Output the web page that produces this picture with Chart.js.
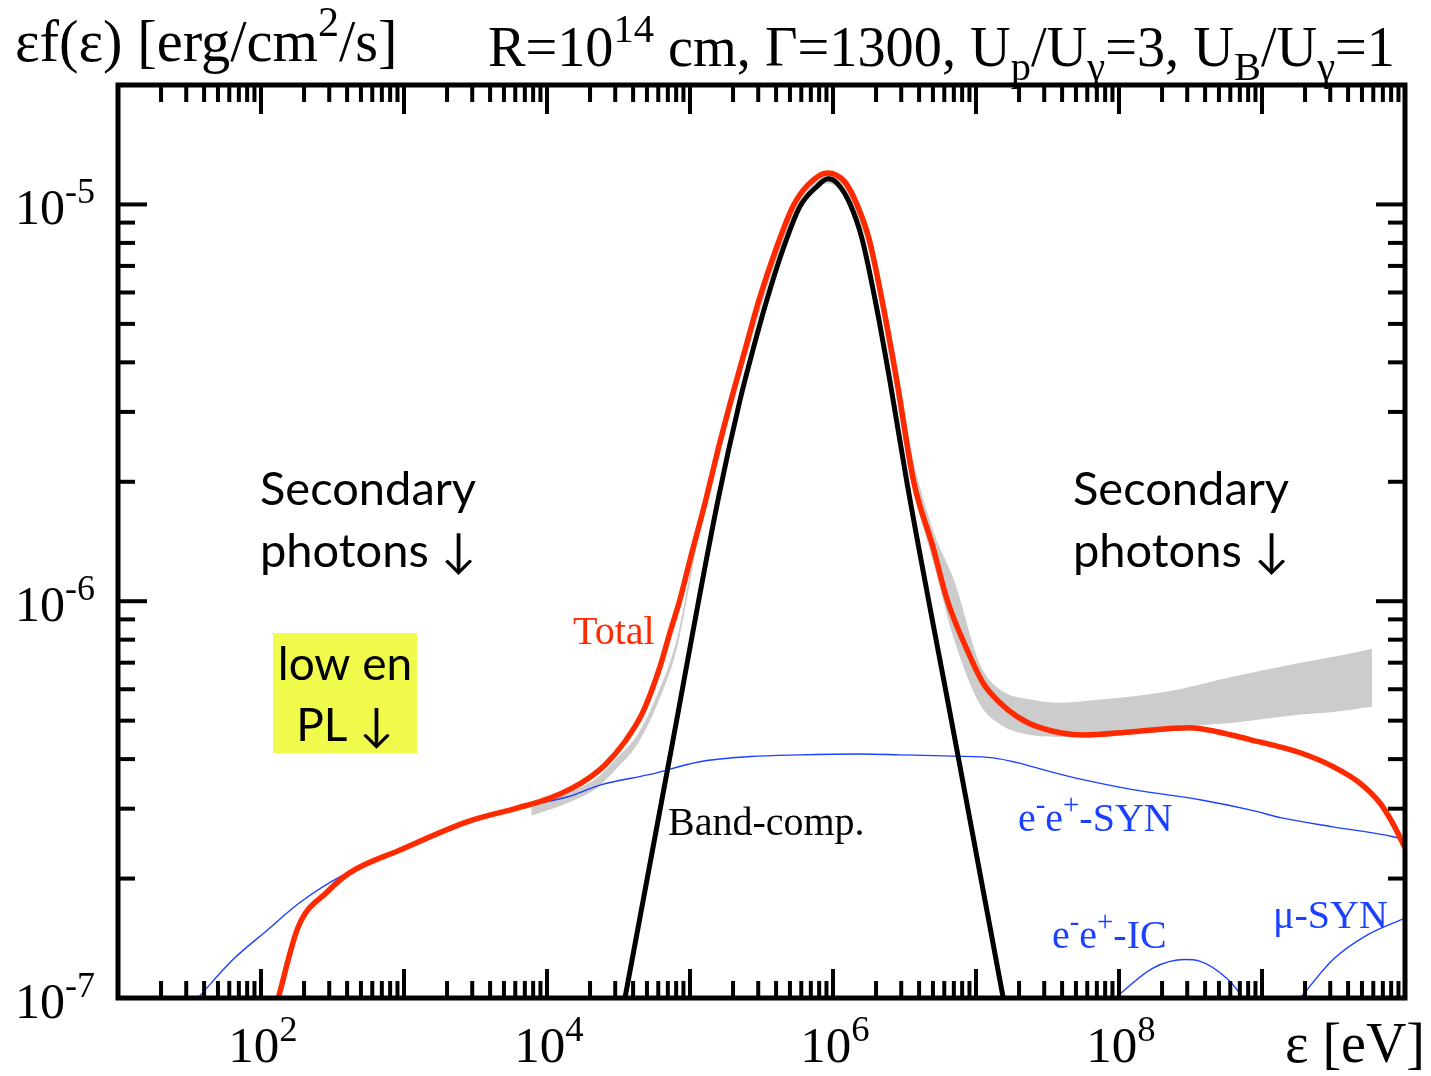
<!DOCTYPE html>
<html>
<head>
<meta charset="utf-8">
<script src="https://cdn.jsdelivr.net/npm/chart.js@4.4.1/dist/chart.umd.min.js"></script>
<style>
  html, body { margin: 0; padding: 0; background: #ffffff; }
  #wrap { width: 1431px; height: 1076px; position: relative; }
</style>
</head>
<body>
<div id="wrap"><canvas id="c" width="1431" height="1076"></canvas></div>
<script>
// Photon energy ε [eV] and flux εf(ε) [erg/cm²/s] of each spectral component

// Total spectrum
const totalE = [1.32e2, 1.82e2, 2.90e2, 4.19e2, 9.38e2, 2.76e3, 6.17e3, 1.05e4, 1.52e4, 2.00e4,
                2.55e4, 3.51e4, 4.69e4, 6.17e4, 7.24e4, 8.51e4, 1.00e5, 1.29e5, 1.57e5, 1.94e5,
                2.43e5, 3.04e5, 3.99e5, 5.25e5, 6.68e5, 9.08e5, 1.21e6, 1.47e6, 1.79e6, 2.20e6,
                2.81e6, 3.68e6, 5.00e6, 6.27e6, 8.65e6, 1.12e7, 1.47e7, 1.94e7, 2.81e7, 5.60e7,
                1.25e8, 3.14e8, 4.84e8, 8.24e8, 1.85e9, 3.14e9, 4.84e9, 6.68e9, 8.24e9, 1.00e10];
const totalF = [1.00e-7, 1.51e-7, 1.85e-7, 2.07e-7, 2.36e-7, 2.78e-7, 3.01e-7, 3.19e-7, 3.39e-7, 3.60e-7,
                3.87e-7, 4.43e-7, 5.26e-7, 6.84e-7, 8.34e-7, 1.01e-6, 1.27e-6, 1.80e-6, 2.41e-6, 3.22e-6,
                4.31e-6, 5.75e-6, 7.71e-6, 9.89e-6, 1.12e-5, 1.20e-5, 1.14e-5, 1.00e-5, 8.17e-6, 5.75e-6,
                3.56e-6, 1.99e-6, 1.37e-6, 1.01e-6, 7.55e-7, 6.22e-7, 5.55e-7, 5.12e-7, 4.80e-7, 4.60e-7,
                4.69e-7, 4.80e-7, 4.69e-7, 4.48e-7, 4.15e-7, 3.83e-7, 3.48e-7, 3.10e-7, 2.75e-7, 2.39e-7];

// Band-function (Comptonized) component
const bandE = [3.51e4, 7.24e4, 1.57e5, 2.24e5, 2.76e5, 3.45e5, 4.47e5, 5.88e5, 7.73e5, 9.23e5,
               1.07e6, 1.32e6, 1.60e6, 1.97e6, 2.51e6, 3.29e6, 7.13e6, 1.55e7];
const bandF = [1.00e-7, 4.06e-7, 1.80e-6, 3.22e-6, 4.31e-6, 5.75e-6, 7.71e-6, 9.89e-6, 1.11e-5, 1.16e-5,
               1.13e-5, 1.00e-5, 8.17e-6, 5.75e-6, 3.56e-6, 1.99e-6, 4.48e-7, 1.00e-7];

// Pair synchrotron
const synE = [3.62e1, 6.37e1, 1.10e2, 1.87e2, 3.74e2, 9.38e2, 2.76e3, 6.47e3, 1.38e4, 2.35e4,
              5.25e4, 1.17e5, 2.63e5, 5.88e5, 1.55e6, 2.94e6, 6.90e6, 1.32e7, 1.94e7, 3.29e7,
              5.60e7, 1.25e8, 3.68e8, 8.24e8, 1.40e9, 3.14e9, 8.24e9, 1.00e10];
const synF = [1.00e-7, 1.25e-7, 1.48e-7, 1.74e-7, 2.04e-7, 2.36e-7, 2.78e-7, 3.03e-7, 3.21e-7, 3.44e-7,
              3.66e-7, 3.94e-7, 4.06e-7, 4.10e-7, 4.12e-7, 4.10e-7, 4.07e-7, 4.03e-7, 3.92e-7, 3.72e-7,
              3.55e-7, 3.35e-7, 3.16e-7, 2.98e-7, 2.84e-7, 2.70e-7, 2.55e-7, 2.50e-7];

// Pair inverse Compton
const icE = [9.38e7, 1.73e8, 2.90e8, 3.62e8, 5.69e8, 6.68e8, 7.24e8];
const icF = [1.00e-7, 1.19e-7, 1.25e-7, 1.24e-7, 1.12e-7, 1.05e-7, 1.00e-7];

// Muon synchrotron
const muE = [1.85e9, 3.14e9, 5.42e9, 1.00e10];
const muF = [1.00e-7, 1.25e-7, 1.44e-7, 1.59e-7];

// Shaded range of the simulated spectrum (lower and upper edge)
const rangeE  = [7.76e3, 1.45e4, 2.24e4, 3.09e4, 4.27e4, 5.89e4, 8.13e4, 1.17e5, 1.62e5, 2.51e5,
                 4.47e5, 7.08e5, 9.23e5, 1.32e6, 1.82e6, 2.51e6, 3.47e6, 5.01e6, 7.08e6, 1.07e7,
                 1.48e7, 2.40e7, 3.89e7, 7.41e7, 2.19e8, 6.31e8, 1.86e9, 3.16e9, 5.89e9];
const rangeLo = [2.88e-7, 3.12e-7, 3.39e-7, 3.80e-7, 4.35e-7, 5.48e-7, 7.64e-7, 1.50e-6, 2.36e-6, 4.19e-6,
                 7.98e-6, 1.07e-5, 1.13e-5, 1.00e-5, 7.43e-6, 4.02e-6, 2.05e-6, 1.26e-6, 7.94e-7, 5.48e-7,
                 4.89e-7, 4.60e-7, 4.55e-7, 4.55e-7, 4.80e-7, 4.94e-7, 5.18e-7, 5.26e-7, 5.42e-7];
const rangeHi = [3.05e-7, 3.31e-7, 3.59e-7, 4.03e-7, 4.60e-7, 5.81e-7, 8.09e-7, 1.58e-6, 2.49e-6, 4.44e-6,
                 8.45e-6, 1.12e-5, 1.18e-5, 1.12e-5, 8.17e-6, 4.57e-6, 2.44e-6, 1.51e-6, 1.12e-6, 6.92e-7,
                 5.98e-7, 5.65e-7, 5.55e-7, 5.65e-7, 5.92e-7, 6.46e-7, 7.00e-7, 7.24e-7, 7.59e-7];

// Axis ranges and labelled decades
const xRange = [1e1, 1e10];
const yRange = [1e-7, 2e-5];
const xTickValues = [1e2, 1e4, 1e6, 1e8];
const xTickExps   = ['2', '4', '6', '8'];
const yTickValues = [1e-7, 1e-6, 1e-5];
const yTickExps   = ['-7', '-6', '-5'];

const SERIF = "'Liberation Serif', 'DejaVu Serif', serif";
const SANS  = "Lato, 'DejaVu Sans', sans-serif";
const RED = '#ff2a00';
const BLUE = '#1c40ff';

function pts(xs, ys) { return xs.map((v, i) => ({ x: v, y: ys[i] })); }

// Rich text: parts are [text, mode] with mode 0 normal, 1 superscript, -1 subscript
function richWidth(ctx, parts, size, family) {
  let w = 0;
  for (const [t, m] of parts) {
    ctx.font = (m ? size * 0.72 : size) + 'px ' + family;
    w += ctx.measureText(t).width;
  }
  return w;
}
function drawRich(ctx, parts, x, y, size, family, align) {
  const w = richWidth(ctx, parts, size, family);
  let cx = align === 'right' ? x - w : align === 'center' ? x - w / 2 : x;
  ctx.textAlign = 'left';
  ctx.textBaseline = 'alphabetic';
  for (const [t, m] of parts) {
    const s = m ? size * 0.72 : size;
    ctx.font = s + 'px ' + family;
    const dy = m === 1 ? -size * 0.42 : m === -1 ? size * 0.24 : 0;
    ctx.fillText(t, cx, y + dy);
    cx += ctx.measureText(t).width;
  }
}

const decor = {
  id: 'decor',
  afterDraw(chart) {
    const { ctx, chartArea: a, scales: { x, y } } = chart;
    ctx.save();
    ctx.strokeStyle = '#000';
    ctx.fillStyle = '#000';
    ctx.lineCap = 'butt';
    ctx.lineWidth = 4;
    const seg = (x1, y1, x2, y2) => { ctx.beginPath(); ctx.moveTo(x1, y1); ctx.lineTo(x2, y2); ctx.stroke(); };

    // inward ticks on all four sides
    for (let d = 1; d <= 10; d++) {
      for (let m = 1; m <= 9; m++) {
        const v = m * Math.pow(10, d);
        if (v > xRange[1] * 1.0001) break;
        const px = x.getPixelForValue(v);
        const len = m === 1 ? 29 : 17;
        seg(px, a.bottom, px, a.bottom - len);
        seg(px, a.top, px, a.top + len);
      }
    }
    for (let d = -7; d <= -5; d++) {
      for (let m = 1; m <= 9; m++) {
        const v = m * Math.pow(10, d);
        if (v > yRange[1] * 1.0001) break;
        const py = y.getPixelForValue(v);
        const len = m === 1 ? 29 : 17;
        seg(a.left, py, a.left + len, py);
        seg(a.right, py, a.right - len, py);
      }
    }
    ctx.lineWidth = 5;
    ctx.strokeRect(a.left, a.top, a.right - a.left, a.bottom - a.top);

    // tick labels
    xTickValues.forEach((v, i) => {
      drawRich(ctx, [['10', 0], [xTickExps[i], 1]], x.getPixelForValue(v) + 2, 1062, 51, SERIF, 'center');
    });
    yTickValues.forEach((v, i) => {
      drawRich(ctx, [['10', 0], [yTickExps[i], 1]], 15, y.getPixelForValue(v) + 20, 50, SERIF, 'left');
    });

    // axis titles and header
    drawRich(ctx, [['ε [eV]', 0]], 1425, 1062, 56, SERIF, 'right');
    drawRich(ctx, [['εf(ε) [erg/cm', 0], ['2', 1], ['/s]', 0]], 15, 61, 58.5, SERIF, 'left');
    drawRich(ctx, [['R=10', 0], ['14', 1], [' cm, Γ=1300, U', 0], ['p', -1], ['/U', 0], ['γ', -1],
                   ['=3, U', 0], ['B', -1], ['/U', 0], ['γ', -1], ['=1', 0]], 1395, 66, 56.3, SERIF, 'right');

    // annotations
    ctx.font = '47px ' + SANS;
    ctx.textAlign = 'left';
    ctx.fillText('Secondary', 260, 505);
    ctx.fillText('photons ↓', 260, 567);
    ctx.fillText('Secondary', 1073, 505);
    ctx.fillText('photons ↓', 1073, 567);

    ctx.fillStyle = '#f0fa4b';
    ctx.fillRect(273, 633, 144, 120);
    ctx.fillStyle = '#000';
    ctx.font = '46px ' + SANS;
    ctx.textAlign = 'center';
    ctx.fillText('low en', 345, 680);
    ctx.fillText('PL ↓', 345, 741);

    ctx.fillStyle = RED;
    drawRich(ctx, [['Total', 0]], 573, 644, 40, SERIF, 'left');
    ctx.fillStyle = '#000';
    drawRich(ctx, [['Band-comp.', 0]], 668, 835, 40, SERIF, 'left');
    ctx.fillStyle = BLUE;
    drawRich(ctx, [['e', 0], ['-', 1], ['e', 0], ['+', 1], ['-SYN', 0]], 1018, 831, 40, SERIF, 'left');
    drawRich(ctx, [['e', 0], ['-', 1], ['e', 0], ['+', 1], ['-IC', 0]], 1052, 948, 40, SERIF, 'left');
    drawRich(ctx, [['μ-SYN', 0]], 1273, 928, 40, SERIF, 'left');
    ctx.restore();
  }
};

function build() {
  new Chart(document.getElementById('c'), {
    type: 'line',
    data: {
      datasets: [
        { label: 'Total', data: pts(totalE, totalF), borderColor: RED, borderWidth: 5.5, order: 0 },
        { label: 'Band-comp.', data: pts(bandE, bandF), borderColor: '#000', borderWidth: 5, order: 1 },
        { label: 'e-e+-SYN', data: pts(synE, synF), borderColor: BLUE, borderWidth: 1.4, order: 2 },
        { label: 'e-e+-IC', data: pts(icE, icF), borderColor: BLUE, borderWidth: 1.4, order: 3 },
        { label: 'mu-SYN', data: pts(muE, muF), borderColor: BLUE, borderWidth: 1.4, order: 4 },
        { label: 'range low', data: pts(rangeE, rangeLo), borderColor: 'rgba(0,0,0,0)', borderWidth: 0, fill: false, order: 5 },
        { label: 'range high', data: pts(rangeE, rangeHi), borderColor: 'rgba(0,0,0,0)', borderWidth: 0,
          fill: '-1', backgroundColor: '#cccccc', order: 6 }
      ]
    },
    options: {
      responsive: false,
      animation: false,
      devicePixelRatio: 1,
      layout: { padding: { left: 118, right: 26, top: 85, bottom: 78 } },
      elements: {
        point: { radius: 0, hoverRadius: 0 },
        line: { cubicInterpolationMode: 'monotone', fill: false, borderJoinStyle: 'round', borderCapStyle: 'butt' }
      },
      scales: {
        x: { type: 'logarithmic', min: xRange[0], max: xRange[1], display: false },
        y: { type: 'logarithmic', min: yRange[0], max: yRange[1], display: false }
      },
      plugins: { legend: { display: false }, tooltip: { enabled: false } },
      events: []
    },
    plugins: [decor]
  });
}

const fontLoads = [
  document.fonts.load('48px "Liberation Serif"'),
  document.fonts.load('46px Lato')
];
Promise.all(fontLoads).then(build, build);
</script>
</body>
</html>
